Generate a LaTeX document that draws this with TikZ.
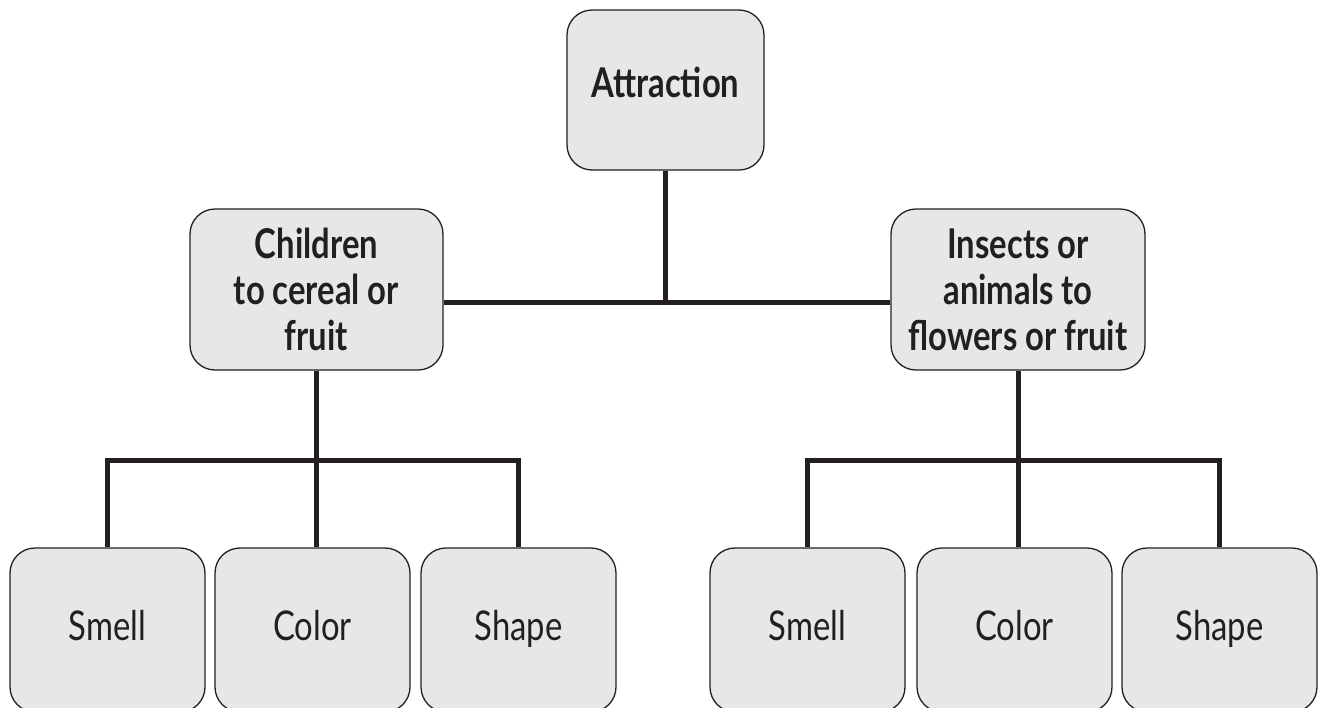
\documentclass[tikz,border=0pt]{standalone}
\usepackage{fontspec}
\setmainfont{Lato}[FakeStretch=0.8]
\definecolor{ink}{HTML}{231F20}
\definecolor{boxfill}{HTML}{E6E7E8}
\begin{document}
\begin{tikzpicture}[x=1pt,y=-1pt,
  box/.style={draw=ink, line width=1.3pt, fill=boxfill, rounded corners=25pt,
    text=ink, inner sep=0pt, align=center},
  headbox/.style={box, minimum width=197pt, minimum height=160pt,
    font=\fontsize{41}{46}\selectfont\bfseries, text height=29pt, text depth=15pt},
  midbox/.style={box, minimum width=253pt, minimum height=161pt,
    font=\fontsize{41}{46}\selectfont\bfseries},
  leafbox/.style={box, minimum width=195pt, minimum height=164pt,
    font=\fontsize{41}{46}\selectfont, text height=30pt, text depth=10pt},
  link/.style={draw=ink, line width=5pt, line join=miter}
]
\useasboundingbox (0,0) rectangle (1319,707);
\clip (0,0) rectangle (1319,707);

% hierarchy
\node[headbox] (attr) at (665.5,90) {Attraction};
\node[midbox] (kids) at (316.5,289.5) {Children\\to cereal or\\fruit};
\node[midbox, minimum width=254pt] (bugs) at (1018,289.5) {Insects or\\animals to\\flowers or fruit};

\node[leafbox] (ksmell) at (107.5,630) {Smell};
\node[leafbox] (kcolor) at (312.5,630) {Color};
\node[leafbox] (kshape) at (518.5,630) {Shape};
\node[leafbox] (bsmell) at (807.5,630) {Smell};
\node[leafbox] (bcolor) at (1014.5,630) {Color};
\node[leafbox] (bshape) at (1219.5,630) {Shape};

% top level connectors
\draw[link] (attr.south) -- ([yshift=-132pt]attr.south) coordinate (hub);
\draw[link] (kids.east |- hub) -- (bugs.west |- hub);

% left branch
\draw[link] (kids.south) -- (kids.south |- kcolor.north);
\coordinate (kjoin) at ([yshift=-90pt]kids.south);
\draw[link] (ksmell.north) |- (kjoin) -| (kshape.north);

% right branch
\draw[link] (bugs.south) -- (bugs.south |- bcolor.north);
\coordinate (bjoin) at ([yshift=-90pt]bugs.south);
\draw[link] (bsmell.north) |- (bjoin) -| (bshape.north);
\end{tikzpicture}
\end{document}
